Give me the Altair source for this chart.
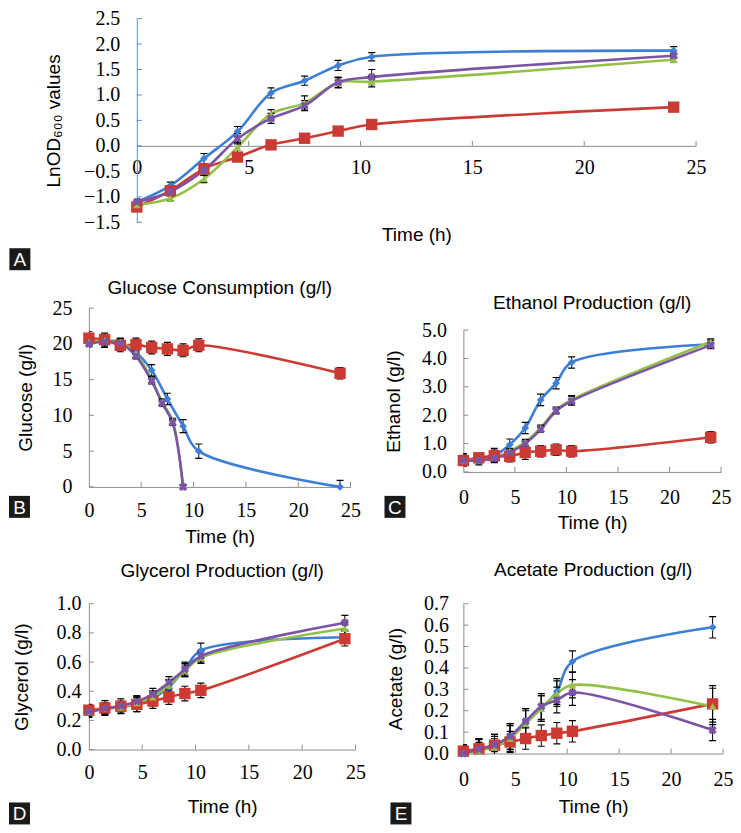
import altair as alt
import pandas as pd

# ---------------- data ----------------
TIME = [0, 1.5, 3, 4.5, 6, 7.5, 9, 10.5, 24]
TIME_FAST = [0, 1.5, 3, 4.5, 6, 7, 8, 9]
SERIES = ["Series 1", "Series 2", "Series 3", "Series 4"]
COLORS = ["#3d7fd6", "#cc3b33", "#93c147", "#7b54a8"]
SHAPES = ["diamond", "square", "triangle-up", "cross"]
SIZES = [60, 130, 60, 70]
ANGLES = [0, 0, 0, 45]
XTICKS = [0, 5, 10, 15, 20, 25]

# A: LnOD600
OD_BLUE = [-1.10, -0.78, -0.25, 0.28, 1.04, 1.28, 1.58, 1.75, 1.87]
OD_RED = [-1.20, -0.88, -0.45, -0.22, 0.02, 0.15, 0.29, 0.42, 0.76]
OD_GREEN = [-1.16, -1.03, -0.65, -0.03, 0.63, 0.84, 1.24, 1.26, 1.69]
OD_PURPLE = [-1.10, -0.90, -0.48, 0.14, 0.54, 0.79, 1.25, 1.35, 1.77]
OD_BLUE_E = [0.06, 0.07, 0.10, 0.10, 0.10, 0.09, 0.10, 0.08, 0.08]
OD_RED_E = [0.08, 0.07, 0.08, 0.08, 0.08, 0.08, 0.08, 0.08, 0.08]
OD_GREEN_E = [0.05, 0.05, 0.07, 0.10, 0.08, 0.14, 0.10, 0.10, 0.05]
OD_PURPLE_E = [0.05, 0.05, 0.10, 0.10, 0.10, 0.10, 0.10, 0.15, 0.05]

# B: Glucose
GLU_BLUE = [20.4, 20.3, 20.0, 18.8, 16.3, 12.3, 8.5, 5.0, 0.0]
GLU_RED = [20.8, 20.6, 19.8, 19.9, 19.5, 19.3, 19.1, 19.8, 15.9]
GLU_GREEN = [20.2, 20.5, 20.3, 18.6, 15.0, 11.9, 9.2, 0.0]
GLU_PURPLE = [20.0, 20.3, 20.1, 18.3, 14.8, 11.7, 9.0, 0.0]
GLU_BLUE_E = [0.8, 0.8, 0.8, 0.8, 0.8, 0.8, 0.9, 1.0, 0.9]
GLU_RED_E = [0.9, 0.9, 0.9, 0.9, 0.9, 0.9, 0.9, 0.9, 0.8]
GLU_GREEN_E = [0.4, 0.4, 0.4, 0.4, 0.4, 0.4, 0.4, 0.3]
GLU_PURPLE_E = [0.4, 0.4, 0.4, 0.4, 0.4, 0.4, 0.4, 0.3]

# C: Ethanol
ETH_BLUE = [0.45, 0.45, 0.58, 0.96, 1.55, 2.54, 3.13, 3.86, 4.50]
ETH_RED = [0.40, 0.50, 0.57, 0.55, 0.69, 0.73, 0.78, 0.73, 1.22]
ETH_GREEN = [0.40, 0.40, 0.50, 0.73, 1.05, 1.55, 2.19, 2.54, 4.59]
ETH_PURPLE = [0.40, 0.40, 0.48, 0.68, 1.00, 1.50, 2.15, 2.50, 4.47]
ETH_BLUE_E = [0.2, 0.2, 0.25, 0.2, 0.2, 0.2, 0.2, 0.2, 0.15]
ETH_RED_E = [0.2, 0.15, 0.2, 0.2, 0.25, 0.2, 0.2, 0.2, 0.2]
ETH_GREEN_E = [0.1, 0.1, 0.1, 0.1, 0.1, 0.1, 0.1, 0.15, 0.1]
ETH_PURPLE_E = [0.1, 0.1, 0.1, 0.1, 0.1, 0.1, 0.1, 0.15, 0.1]

# D: Glycerol
GLY_BLUE = [0.26, 0.28, 0.29, 0.31, 0.35, 0.43, 0.55, 0.68, 0.77]
GLY_RED = [0.27, 0.285, 0.297, 0.31, 0.333, 0.36, 0.384, 0.406, 0.76]
GLY_GREEN = [0.26, 0.28, 0.29, 0.32, 0.36, 0.44, 0.54, 0.63, 0.83]
GLY_PURPLE = [0.26, 0.28, 0.30, 0.33, 0.38, 0.46, 0.55, 0.64, 0.87]
GLY_BLUE_E = [0.04, 0.04, 0.04, 0.05, 0.05, 0.05, 0.05, 0.05, 0.04]
GLY_RED_E = [0.04, 0.05, 0.05, 0.05, 0.05, 0.05, 0.05, 0.05, 0.05]
GLY_GREEN_E = [0.03, 0.03, 0.03, 0.04, 0.04, 0.04, 0.04, 0.04, 0.04]
GLY_PURPLE_E = [0.03, 0.03, 0.03, 0.04, 0.04, 0.04, 0.04, 0.04, 0.05]

# E: Acetate
ACE_BLUE = [0.0, 0.02, 0.04, 0.08, 0.15, 0.21, 0.29, 0.43, 0.59]
ACE_RED = [0.011, 0.022, 0.039, 0.054, 0.07, 0.084, 0.095, 0.104, 0.232]
ACE_GREEN = [0.0, 0.015, 0.03, 0.07, 0.14, 0.21, 0.28, 0.32, 0.22]
ACE_PURPLE = [0.0, 0.02, 0.04, 0.08, 0.15, 0.22, 0.25, 0.285, 0.11]
ACE_BLUE_E = [0.04, 0.05, 0.05, 0.06, 0.06, 0.06, 0.06, 0.05, 0.05]
ACE_RED_E = [0.03, 0.03, 0.03, 0.05, 0.05, 0.05, 0.05, 0.05, 0.085]
ACE_GREEN_E = [0.04, 0.05, 0.05, 0.06, 0.06, 0.06, 0.06, 0.06, 0.085]
ACE_PURPLE_E = [0.04, 0.05, 0.05, 0.06, 0.06, 0.06, 0.06, 0.06, 0.05]

GRAY = "#8c8c8c"
LABEL_FONT = "Liberation Serif, Times New Roman, serif"
TITLE_FONT = "Liberation Sans, Arial, sans-serif"


def make_df(times, values, errs):
    rows = []
    for i, s in enumerate(SERIES):
        for t, v, e in zip(times[i], values[i], errs[i]):
            rows.append(dict(time=t, value=v, lo=v - e, hi=v + e, series=s,
                             sz=SIZES[i], ang=ANGLES[i]))
    return pd.DataFrame(rows)


def spacer(w, h):
    return alt.Chart(pd.DataFrame({"a": [0]})).mark_rect(opacity=0).encode(
        x=alt.value(0), x2=alt.value(w), y=alt.value(0), y2=alt.value(h)
    ).properties(width=w, height=h)


def panel(df, ydom, yvals, yfmt, w, h, ytitle, title, letter, box,
          ybase, xoffset=0, ycolor=GRAY, xlabpad=14, xtitley=50,
          ylabpad=17, ytitlex=-63, title_offset=10):
    xaxis = alt.Axis(values=XTICKS, title="Time (h)", tickSize=0, labelFlush=False,
                     domainColor=GRAY, grid=False, labelPadding=xlabpad,
                     titleY=xtitley, titleBaseline="middle", offset=xoffset,
                     labelFont=LABEL_FONT, labelFontSize=20, labelColor="black",
                     titleFont=TITLE_FONT, titleFontSize=19, titleFontWeight="normal",
                     titleColor="black")
    yaxis = alt.Axis(values=yvals, format=yfmt, title=ytitle, tickSize=0,
                     domainColor=ycolor, grid=False, labelPadding=ylabpad,
                     titleX=ytitlex, titleY=h / 2, titleBaseline="middle",
                     labelFont=LABEL_FONT, labelFontSize=20, labelColor="black",
                     titleFont=TITLE_FONT, titleFontSize=19, titleFontWeight="normal",
                     titleColor="black")
    xs = alt.Scale(domain=[0, 25], nice=False, zero=False)
    ys = alt.Scale(domain=ydom, nice=False, zero=False)

    def X(f):
        return alt.X(f"{f}:Q", scale=xs, axis=xaxis)

    def Y(f):
        return alt.Y(f"{f}:Q", scale=ys, axis=yaxis)

    color = alt.Color("series:N", scale=alt.Scale(domain=SERIES, range=COLORS), legend=None)

    lines = alt.Chart(df).mark_line(interpolate="catmull-rom", strokeWidth=2.6).encode(
        x=X("time"), y=Y("value"), color=color)
    bars = alt.Chart(df).mark_rule(color="black", strokeWidth=1, clip=True).encode(
        x=X("time"), y=Y("lo"), y2="hi:Q")
    caps = alt.Chart(df).transform_fold(["lo", "hi"], as_=["k", "v"]).mark_point(
        shape="M-1,0L1,0", filled=False, color="black", size=49, strokeWidth=1.2,
        opacity=1, clip=True).encode(x=X("time"), y=Y("v"))
    pts = alt.Chart(df).mark_point(filled=True, opacity=1).encode(
        x=X("time"), y=Y("value"), color=color,
        shape=alt.Shape("series:N", scale=alt.Scale(domain=SERIES, range=SHAPES), legend=None),
        size=alt.Size("sz:Q", scale=None),
        angle=alt.Angle("ang:Q", scale=None))

    xt = pd.DataFrame({"t": XTICKS[1:], "b": [ybase] * (len(XTICKS) - 1)})
    xticks = alt.Chart(xt).mark_point(shape="M0,0L0,-1", filled=False, color=GRAY,
                                      size=100, strokeWidth=1, opacity=1).encode(
        x=X("t"), y=Y("b"))
    yt = pd.DataFrame({"v": yvals, "z": [0] * len(yvals)})
    yticks = alt.Chart(yt).mark_point(shape="M0,0L1,0", filled=False, color=ycolor,
                                      size=100, strokeWidth=1, opacity=1).encode(
        x=X("z"), y=Y("v"))

    bx = pd.DataFrame({"l": [letter]})
    bx0, by0 = box
    rect = alt.Chart(bx).mark_rect(color="#1a1a1a").encode(
        x=alt.value(bx0), x2=alt.value(bx0 + 21), y=alt.value(by0), y2=alt.value(by0 + 22))
    txt = alt.Chart(bx).mark_text(color="white", font=TITLE_FONT, fontSize=19,
                                  align="center", baseline="middle").encode(
        x=alt.value(bx0 + 10.5), y=alt.value(by0 + 12), text="l:N")

    layers = [xticks, yticks, lines, bars, caps, pts, rect, txt]
    ch = alt.layer(*layers).properties(width=w, height=h)
    if title:
        ch = ch.properties(title=alt.TitleParams(title, font=TITLE_FONT, fontSize=19,
                                                 fontWeight="normal", color="black",
                                                 anchor="middle", offset=title_offset))
    return ch


dfA = make_df([TIME] * 4, [OD_BLUE, OD_RED, OD_GREEN, OD_PURPLE],
              [OD_BLUE_E, OD_RED_E, OD_GREEN_E, OD_PURPLE_E])
dfB = make_df([TIME, TIME, TIME_FAST, TIME_FAST], [GLU_BLUE, GLU_RED, GLU_GREEN, GLU_PURPLE],
              [GLU_BLUE_E, GLU_RED_E, GLU_GREEN_E, GLU_PURPLE_E])
dfC = make_df([TIME] * 4, [ETH_BLUE, ETH_RED, ETH_GREEN, ETH_PURPLE],
              [ETH_BLUE_E, ETH_RED_E, ETH_GREEN_E, ETH_PURPLE_E])
dfD = make_df([TIME] * 4, [GLY_BLUE, GLY_RED, GLY_GREEN, GLY_PURPLE],
              [GLY_BLUE_E, GLY_RED_E, GLY_GREEN_E, GLY_PURPLE_E])
dfE = make_df([TIME] * 4, [ACE_BLUE, ACE_RED, ACE_GREEN, ACE_PURPLE],
              [ACE_BLUE_E, ACE_RED_E, ACE_GREEN_E, ACE_PURPLE_E])

A = panel(dfA, [-1.5, 2.5], [-1.5, -1.0, -0.5, 0.0, 0.5, 1.0, 1.5, 2.0, 2.5], ".1f",
          560, 204, "LnOD\u2086\u2080\u2080 values", None, "A", (-127.6, 230),
          ybase=0, xoffset=-76.5, ycolor="#5b8fd6", xlabpad=12, xtitley=89,
          ylabpad=17, ytitlex=-83)
B = panel(dfB, [0, 25], [0, 5, 10, 15, 20, 25], "d", 262, 179, "Glucose (g/l)",
          "Glucose Consumption (g/l)", "B", (-80, 188), ybase=0,
          xlabpad=14, xtitley=50, ylabpad=17, ytitlex=-63, title_offset=0)
C = panel(dfC, [0, 5], [0, 1, 2, 3, 4, 5], ".1f", 258, 142, "Ethanol (g/l)",
          "Ethanol Production (g/l)", "C", (-79, 166), ybase=0,
          xlabpad=16, xtitley=51, ylabpad=17, ytitlex=-70, title_offset=7)
D = panel(dfD, [0, 1], [0, 0.2, 0.4, 0.6, 0.8, 1.0], ".1f", 267, 146, "Glycerol (g/l)",
          "Glycerol Production (g/l)", "D", (-80, 199), ybase=0,
          xlabpad=13, xtitley=57, ylabpad=8, ytitlex=-67, title_offset=13)
E = panel(dfE, [0, 0.7], [0, 0.1, 0.2, 0.3, 0.4, 0.5, 0.6, 0.7], ".1f", 260, 150,
          "Acetate (g/l)", "Acetate Production (g/l)", "E", (-73, 199), ybase=0,
          xlabpad=16, xtitley=53, ylabpad=15, ytitlex=-68, title_offset=14)

row0 = alt.hconcat(spacer(1, 1), A, spacing=0)
Bc = alt.vconcat(spacer(1, 1), B, spacing=0)
Cc = alt.vconcat(spacer(1, 16), C, spacing=0)
row1 = alt.hconcat(spacer(1, 1), alt.hconcat(Bc, Cc, spacing=24), spacing=0)
row2 = alt.vconcat(
    spacer(1, 1),
    alt.hconcat(spacer(1, 1), alt.hconcat(D, E, spacing=20), spacing=0),
    spacing=5,
)

chart = alt.vconcat(row0, row1, row2, spacing=8).properties(
    padding={"left": 0, "top": 0, "right": 0, "bottom": 0}
).configure_view(stroke=None)

chart.save("out.html", embed_options={"renderer": "svg", "actions": False})
